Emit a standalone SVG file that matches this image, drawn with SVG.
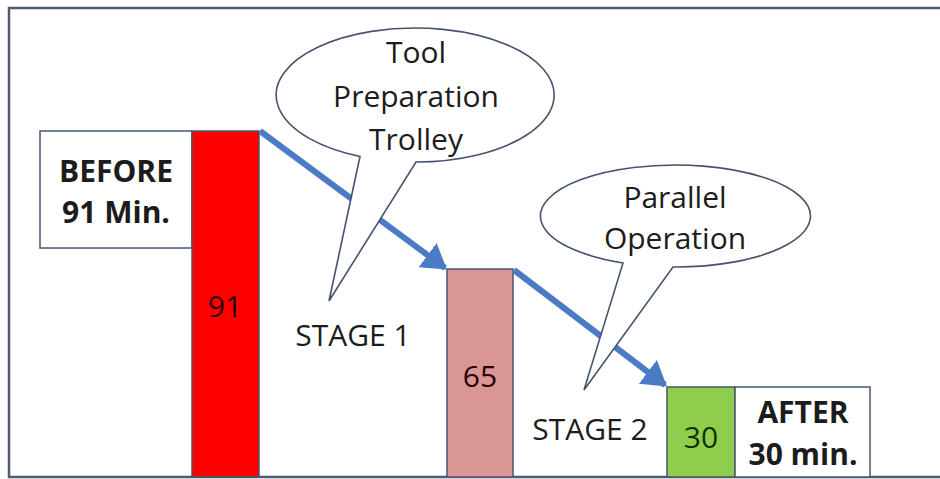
<svg xmlns="http://www.w3.org/2000/svg" width="940" height="479" viewBox="0 0 940 479">
<defs>
<style>
.t{font-family:"Open Sans","Liberation Sans",sans-serif;font-size:30px;fill:#1c1c1c;text-anchor:middle}
.b{font-weight:bold}
.box{fill:#fff;stroke:#4a5670;stroke-width:1.5}
.bar{stroke:#4a5670;stroke-width:1.5}
.cl{fill:#fff;stroke:#45546e;stroke-width:1.6;stroke-linejoin:miter}
.ar{fill:none;stroke:#4a7bc4;stroke-width:6}
</style>
<marker id="ah" markerWidth="5" markerHeight="5" refX="3.6" refY="2.5" orient="auto" markerUnits="strokeWidth">
<path d="M0,0 L4,2.5 L0,5 Z" fill="#4a7bc4"/>
</marker>
</defs>
<rect x="0" y="0" width="940" height="479" fill="#fff"/>
<g id="frame">
<path d="M940,8 L9,8 L9,477 L940,477" fill="none" stroke="#4f5b72" stroke-width="2.5"/>
</g>
<g id="before">
<rect class="box" x="40" y="131" width="152" height="117"/>
<text class="t b" x="116" y="182">BEFORE</text>
<text class="t b" x="116" y="223">91 Min.</text>
</g>
<g id="bar91">
<rect class="bar" x="192" y="131" width="67" height="346" fill="#ff0000"/>
<text class="t" x="225" y="317" style="fill:#2a0000">91</text>
</g>
<g id="bar65">
<rect class="bar" x="447" y="269" width="66" height="208" fill="#d99694"/>
<text class="t" x="480" y="387" style="fill:#2a0000">65</text>
</g>
<g id="bar30">
<rect class="bar" x="667" y="387" width="68" height="90" fill="#8fce4c"/>
<text class="t" x="701" y="448" style="fill:#103000">30</text>
</g>
<g id="after">
<rect class="box" x="735" y="387" width="135" height="90"/>
<text class="t b" x="803" y="423">AFTER</text>
<text class="t b" x="803" y="465">30 min.</text>
</g>
<g id="connectors">
<line class="ar" x1="260" y1="131" x2="445" y2="268" marker-end="url(#ah)"/>
<line class="ar" x1="514" y1="270" x2="665" y2="385" marker-end="url(#ah)"/>
</g>
<g id="callout1">
<path class="cl" d="M360,156.5 A139,67 0 1 1 416,162 L329,301 Z"/>
<text class="t" x="416" y="63">Tool</text>
<text class="t" x="416" y="107">Preparation</text>
<text class="t" x="416" y="150">Trolley</text>
</g>
<g id="callout2">
<path class="cl" d="M623,263 A135,51 0 1 1 673,267 L584,390 Z"/>
<text class="t" x="675" y="208">Parallel</text>
<text class="t" x="675" y="249">Operation</text>
</g>
<g id="stage1">
<text class="t" x="353" y="346">STAGE 1</text>
</g>
<g id="stage2">
<text class="t" x="590" y="440">STAGE 2</text>
</g>
</svg>
